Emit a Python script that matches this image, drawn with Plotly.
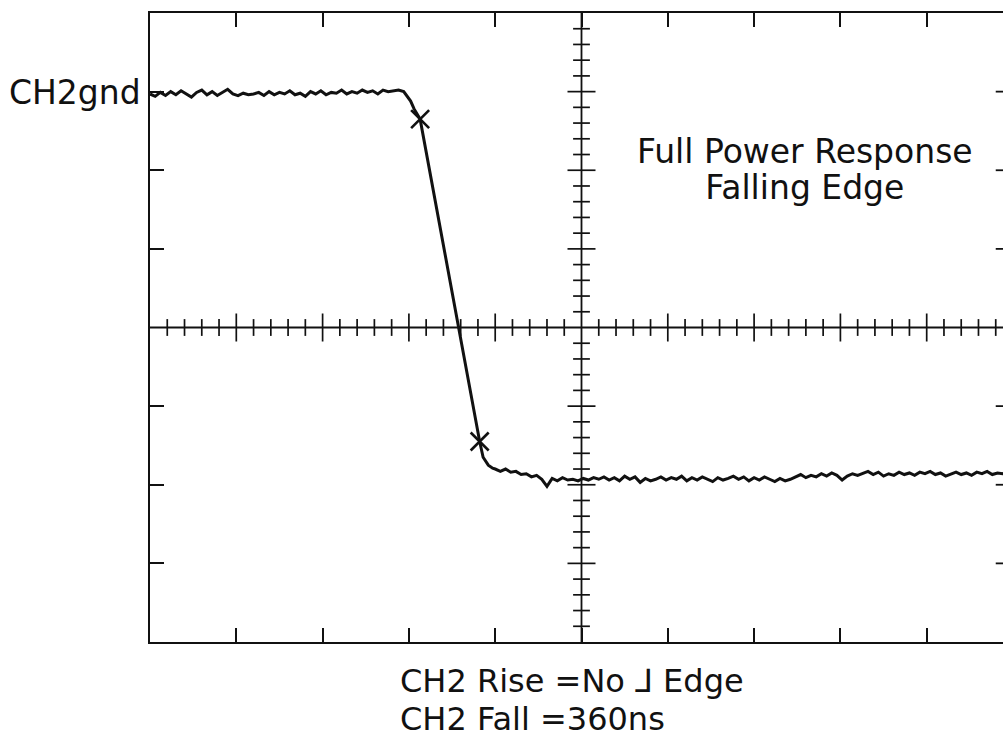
import numpy as np
import plotly.graph_objects as go

# ---- data (units: graticule divisions; x 0..10, y -4..4) ----
sample_step = 0.06
high_start = 0.0
high_vals = [2.97, 2.94, 2.99, 2.95, 3.00, 2.96, 3.01, 2.97, 2.93, 2.99,
             3.02, 2.96, 3.00, 2.95, 2.99, 3.03, 2.97, 2.95, 2.98, 2.96,
             2.97, 2.99, 2.95, 3.00, 2.96, 2.99, 2.97, 3.01, 2.96, 2.98,
             2.94, 3.00, 2.97, 3.01, 2.96, 2.99, 2.98, 3.02, 2.97, 3.00,
             2.98, 3.02, 2.99, 3.01, 2.97, 3.02, 3.00, 3.01, 3.02, 3.00]

edge_x = [2.97, 3.02, 3.06, 3.10, 3.13, 3.82, 3.86, 3.92, 3.97]
edge_y = [2.96, 2.88, 2.78, 2.70, 2.65, -1.45, -1.65, -1.75, -1.79]

low_start = 4.00
low_vals = [-1.80, -1.83, -1.80, -1.84, -1.83, -1.87, -1.86, -1.90, -1.88, -1.93,
            -2.02, -1.92, -1.95, -1.91, -1.94, -1.93, -1.95, -1.92, -1.94, -1.91,
            -1.93, -1.90, -1.94, -1.91, -1.95, -1.89, -1.93, -1.90, -1.97, -1.92,
            -1.95, -1.93, -1.90, -1.94, -1.91, -1.93, -1.89, -1.95, -1.91, -1.94,
            -1.90, -1.93, -1.96, -1.91, -1.94, -1.92, -1.89, -1.93, -1.90, -1.95,
            -1.91, -1.94, -1.90, -1.93, -1.96, -1.92, -1.95, -1.93, -1.90, -1.87,
            -1.91, -1.88, -1.90, -1.86, -1.89, -1.85, -1.88, -1.94, -1.89, -1.86,
            -1.88, -1.85, -1.83, -1.87, -1.84, -1.89, -1.86, -1.88, -1.84, -1.87,
            -1.85, -1.88, -1.84, -1.86, -1.83, -1.87, -1.85, -1.89, -1.86, -1.84,
            -1.87, -1.85, -1.88, -1.84, -1.86, -1.83, -1.87, -1.85, -1.86, -1.84,
            -1.86]

cursor_x = [3.13, 3.82]
cursor_y = [2.65, -1.45]

gnd_label = "CH2gnd"
title_lines = ["Full Power Response", "Falling Edge"]
meas_lines = ["CH2 Rise =No \u2143 Edge", "CH2 Fall =360ns"]

# ---- build trace ----
high_x = high_start + sample_step * np.arange(len(high_vals))
low_x = low_start + sample_step * np.arange(len(low_vals))
trace_x = np.concatenate([high_x, edge_x, low_x])
trace_y = np.concatenate([high_vals, edge_y, low_vals])

INK = "#111111"
fig = go.Figure()

# graticule minor ticks on centre lines
minor_h = [v for v in np.round(np.arange(0.2, 10.0, 0.2), 2) if abs(v - round(v)) > 1e-6]
major_h = [v for v in range(1, 10) if v != 5]
minor_v = [v for v in np.round(np.arange(-3.8, 4.0, 0.2), 2) if abs(v - round(v)) > 1e-6]
major_v = [v for v in range(-3, 4) if v != 0]


def tick_marks(xs, ys, symbol, size):
    return go.Scatter(x=xs, y=ys, mode="markers",
                      marker=dict(symbol=symbol, size=size, color=INK,
                                  line=dict(width=1.7, color=INK)),
                      hoverinfo="skip")


fig.add_trace(tick_marks(minor_h, [0] * len(minor_h), "line-ns-open", 12))
fig.add_trace(tick_marks(major_h, [0] * len(major_h), "line-ns-open", 20))
fig.add_trace(tick_marks([5] * len(minor_v), minor_v, "line-ew-open", 12))
fig.add_trace(tick_marks([5] * len(major_v), major_v, "line-ew-open", 20))

# waveform
fig.add_trace(go.Scatter(x=trace_x, y=trace_y, mode="lines",
                         line=dict(color=INK, width=3), hoverinfo="skip"))
# cursors
fig.add_trace(go.Scatter(x=cursor_x, y=cursor_y, mode="markers",
                         marker=dict(symbol="x-thin-open", size=18, color=INK,
                                     line=dict(width=2.6, color=INK)),
                         hoverinfo="skip"))

# centre lines
fig.add_shape(type="line", x0=0, x1=10, y0=0, y1=0, xref="x", yref="y",
              line=dict(color=INK, width=1.8))
fig.add_shape(type="line", x0=5, x1=5, y0=-4, y1=4, xref="x", yref="y",
              line=dict(color=INK, width=1.8))
# right border ticks (border lies just beyond the visible window)
for v in range(-3, 4):
    if v == 0:
        continue
    fig.add_shape(type="line", x0=9.80, x1=10.0, y0=v, y1=v, xref="x", yref="y",
                  line=dict(color=INK, width=1.8))

W, H = 1003, 737
L, R, T, B = 150, 0, 13, 95
pw, ph = W - L - R, H - T - B


def px(p):
    return (p - L) / pw


def py(p):
    return (H - B - p) / ph


FONT = "DejaVu Sans, Open Sans, sans-serif"


def two_lines(lines, glyph_size):
    return "<br>".join('<span style="font-size:%dpx">%s</span>' % (glyph_size, t) for t in lines)


ann = [
    dict(text=gnd_label, x=px(143), y=py(92), xanchor="right", yanchor="middle",
         font=dict(size=33, family=FONT, color=INK)),
    dict(text=two_lines(title_lines, 33), x=px(805), y=py(170), xanchor="center",
         yanchor="middle", align="center",
         font=dict(size=28, family=FONT, color=INK)),
    dict(text=two_lines(meas_lines, 32), x=px(398), y=py(700), xanchor="left",
         yanchor="middle", align="left",
         font=dict(size=29, family=FONT, color=INK)),
]
for a in ann:
    a.update(xref="paper", yref="paper", showarrow=False)

fig.update_layout(
    width=W, height=H, margin=dict(l=L, r=R, t=T, b=B),
    paper_bgcolor="white", plot_bgcolor="white", showlegend=False,
    annotations=ann,
    xaxis=dict(range=[0, pw / 86.3], showgrid=False, zeroline=False,
               showline=True, linecolor=INK, linewidth=2, mirror="ticks",
               ticks="inside", tickvals=list(range(1, 10)), ticklen=14,
               tickwidth=1.8, tickcolor=INK, showticklabels=False, fixedrange=True),
    yaxis=dict(range=[-4, 4], showgrid=False, zeroline=False,
               showline=True, linecolor=INK, linewidth=2, mirror=False,
               ticks="inside", tickvals=[-3, -2, -1, 1, 2, 3], ticklen=14,
               tickwidth=1.8, tickcolor=INK, showticklabels=False, fixedrange=True),
)

fig.write_html("out.html", config={"displayModeBar": False},
               post_script="document.body.style.margin='0';document.body.style.overflow='hidden';")
